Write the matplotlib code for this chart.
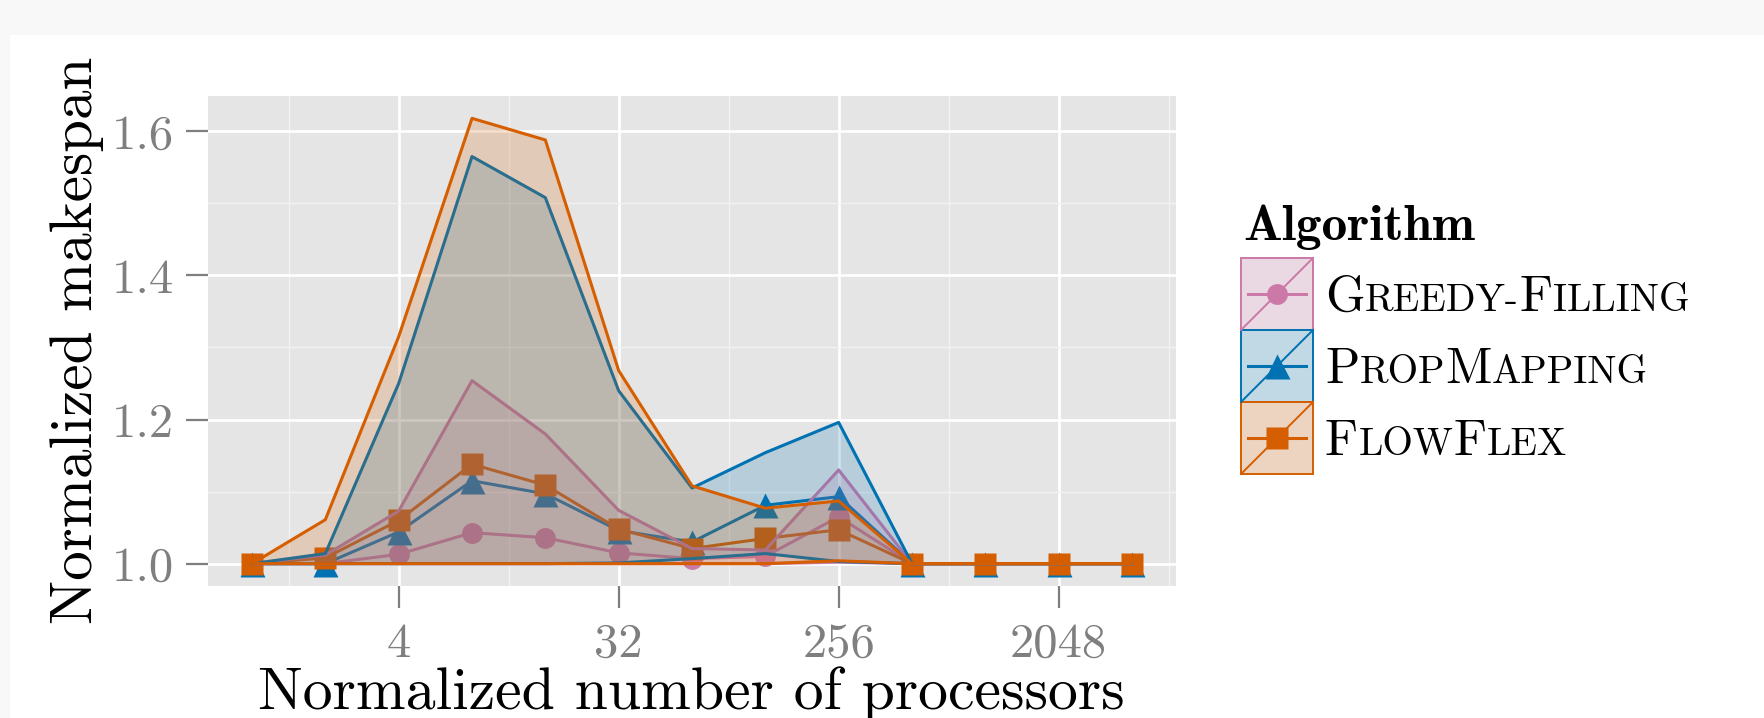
import matplotlib
matplotlib.use("Agg")
import matplotlib.pyplot as plt
import numpy as np
from matplotlib.patches import Rectangle
from matplotlib.lines import Line2D

# ---------------- data ----------------
processors = [1, 2, 4, 8, 16, 32, 64, 128, 256, 512, 1024, 2048, 4096]

greedy_mean = [1.0, 1.0, 1.013, 1.043, 1.036, 1.015, 1.007, 1.010, 1.065, 1.0, 1.0, 1.0, 1.0]
greedy_min  = [1.0, 1.0, 1.0, 1.0, 1.0, 1.0, 1.0, 1.0, 1.002, 1.0, 1.0, 1.0, 1.0]
greedy_max  = [1.0, 1.012, 1.073, 1.254, 1.180, 1.074, 1.021, 1.019, 1.130, 1.0, 1.0, 1.0, 1.0]

prop_mean = [1.0, 1.0, 1.044, 1.115, 1.097, 1.046, 1.030, 1.081, 1.093, 1.0, 1.0, 1.0, 1.0]
prop_min  = [1.0, 1.0, 1.0, 1.0, 1.0, 1.001, 1.007, 1.014, 1.003, 1.0, 1.0, 1.0, 1.0]
prop_max  = [1.0, 1.014, 1.250, 1.565, 1.508, 1.240, 1.105, 1.154, 1.196, 1.0, 1.0, 1.0, 1.0]

flow_mean = [1.0, 1.008, 1.060, 1.138, 1.109, 1.048, 1.021, 1.035, 1.047, 1.0, 1.0, 1.0, 1.0]
flow_min  = [1.0, 1.0, 1.0, 1.0, 1.0, 1.0, 1.0, 1.0, 1.004, 1.0, 1.0, 1.0, 1.0]
flow_max  = [1.0, 1.061, 1.315, 1.618, 1.588, 1.268, 1.108, 1.077, 1.087, 1.0, 1.0, 1.0, 1.0]

algorithms = ["Greedy-Filling", "PropMapping", "FlowFlex"]
colors = ["#CC79A7", "#0072B2", "#D55E00"]
markers = ["o", "^", "s"]
marker_sizes = [15, 18, 16]

x_tick_values = [4, 32, 256, 2048]
y_tick_values = [1.0, 1.2, 1.4, 1.6]

# ---------------- figure ----------------
W, H = 1764, 718
fig = plt.figure(figsize=(W / 100, H / 100), dpi=100, facecolor="#f8f8f8")
fig.add_artist(Rectangle((10 / W, 0), 1 - 10 / W, 1 - 35 / H, transform=fig.transFigure,
                         facecolor="white", edgecolor="none", zorder=-10))

def fx(px):
    return px / W

def fy(py):
    return 1 - py / H

FONT = "cmr10"
GREY = "#7F7F7F"
LW = 2.2

ax = fig.add_axes([fx(208), fy(586), (1176 - 208) / W, (586 - 96) / H])
ax.set_facecolor("#E5E5E5")
for s in ax.spines.values():
    s.set_visible(False)

lx = np.log2(processors)
ax.set_xlim(-0.6, 12.6)
ax.set_ylim(0.969, 1.649)

ax.set_xticks(np.log2(x_tick_values))
ax.set_xticklabels([str(v) for v in x_tick_values])
ax.set_yticks(y_tick_values)
ax.set_yticklabels(["%.1f" % v for v in y_tick_values])
ax.set_xticks([0.5, 3.5, 6.5, 9.5, 12.5], minor=True)
ax.set_yticks([1.1, 1.3, 1.5], minor=True)
ax.grid(which="major", color="white", lw=1.9, zorder=0)
ax.grid(which="minor", color="#F2F2F2", lw=1.0, zorder=0)
ax.set_axisbelow(True)
ax.tick_params(which="major", length=15.5, width=1.6, color=GREY, labelcolor=GREY,
               labelsize=35)
ax.tick_params(axis="x", pad=11)
ax.tick_params(axis="y", pad=9)
ax.tick_params(which="minor", length=0)
for lab in ax.get_xticklabels() + ax.get_yticklabels():
    lab.set_fontfamily(FONT)

series = [
    (greedy_mean, greedy_min, greedy_max),
    (prop_mean, prop_min, prop_max),
    (flow_mean, flow_min, flow_max),
]

# mean lines + points (below the ribbons)
for i, (mean, lo, hi) in enumerate(series):
    ax.plot(lx, mean, color=colors[i], lw=LW, zorder=3)
for i, (mean, lo, hi) in enumerate(series):
    ax.plot(lx, mean, ls="none", marker=markers[i], ms=marker_sizes[i],
            color=colors[i], mec="none", zorder=4)

# ribbons
for i, (mean, lo, hi) in enumerate(series):
    z = 5 + i
    ax.fill_between(lx, lo, hi, color=colors[i], alpha=0.2, lw=0, zorder=z)
    ax.plot(lx, hi, color=colors[i], lw=LW, zorder=z)
    ax.plot(lx, lo, color=colors[i], lw=LW, zorder=z)

# axis titles
fig.text(fx(691), fy(709), "Normalized number of processors", family=FONT, size=43,
         ha="center", va="baseline")
fig.text(fx(50), fy(340), "Normalized makespan", family=FONT, size=42.5, rotation=90,
         ha="left", va="center")

# ---------------- legend ----------------
fig.text(fx(1243), fy(240), "Algorithm", family="cmb10", size=37, ha="left", va="baseline")

renderer = fig.canvas.get_renderer()

def small_caps(x_px, y_px, text, size, ratio=0.77):
    runs = []
    for ch in text:
        big = ch.isupper()
        if runs and runs[-1][1] == big:
            runs[-1][0] += ch
        else:
            runs.append([ch, big])
    x = x_px
    for s, big in runs:
        t = fig.text(fx(x), fy(y_px), s if big else s.upper(), family=FONT,
                     size=size if big else size * ratio, ha="left", va="baseline")
        bb = t.get_window_extent(renderer)
        x += bb.width + 0.3

key_left, key_size, key_top = 1241, 72, 258
for i, name in enumerate(algorithms):
    top = key_top + key_size * i
    bottom = top + key_size
    fig.add_artist(Rectangle((fx(key_left), fy(bottom)), key_size / W, key_size / H,
                             transform=fig.transFigure, facecolor="#F2F2F2",
                             edgecolor="none"))
    fig.add_artist(Rectangle((fx(key_left), fy(bottom)), key_size / W, key_size / H,
                             transform=fig.transFigure, facecolor=colors[i], alpha=0.2,
                             edgecolor="none"))
    fig.add_artist(Rectangle((fx(key_left), fy(bottom)), key_size / W, key_size / H,
                             transform=fig.transFigure, facecolor="none",
                             edgecolor=colors[i], lw=1.4))
    fig.add_artist(Line2D([fx(key_left), fx(key_left + key_size)], [fy(bottom), fy(top)],
                          transform=fig.transFigure, color=colors[i], lw=1.4))
    cy = (top + bottom) / 2
    fig.add_artist(Line2D([fx(key_left + 7), fx(key_left + key_size - 7)], [fy(cy), fy(cy)],
                          transform=fig.transFigure, color=colors[i], lw=LW))
    fig.add_artist(Line2D([fx(key_left + key_size / 2)], [fy(cy)], transform=fig.transFigure,
                          ls="none", marker=markers[i], ms=marker_sizes[i],
                          color=colors[i], mec="none"))
    small_caps(1325, cy + 17, name, 36.5)

fig.savefig("out.png", dpi=100, facecolor=fig.get_facecolor())
